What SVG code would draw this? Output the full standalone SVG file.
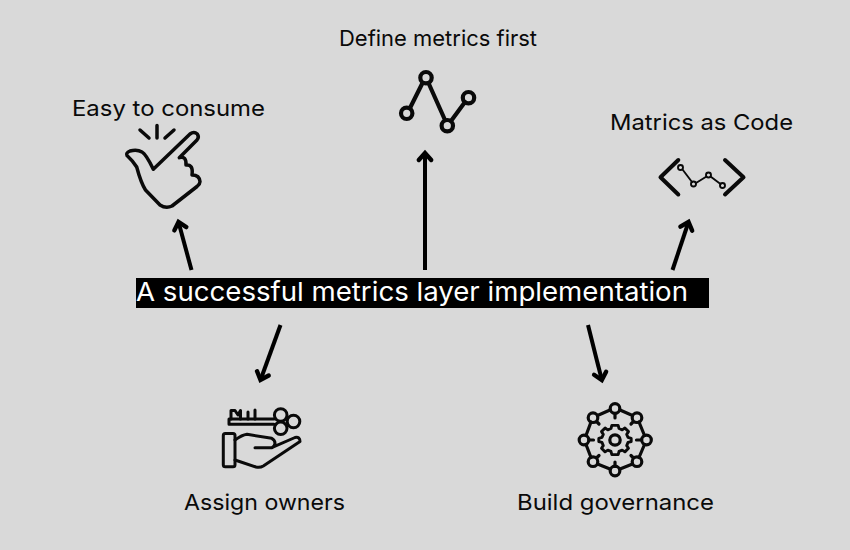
<svg xmlns="http://www.w3.org/2000/svg" width="850" height="550" viewBox="0 0 850 550">
<style>
text{font-family:"Inter","Liberation Sans",sans-serif;font-size:22px;fill:#0a0a0a}
.i{fill:none;stroke:#0a0a0a;stroke-width:3.500;stroke-linecap:round;stroke-linejoin:round}
.c{fill:none;stroke:#000;stroke-width:4;stroke-linecap:butt}
</style>
<defs>
<marker id="a" markerUnits="userSpaceOnUse" markerWidth="20" markerHeight="20" refX="15" refY="10" orient="auto">
<path d="M8 3.800 L15 10 L8 16.200" fill="none" stroke="#000" stroke-width="4.400" stroke-linecap="round" stroke-linejoin="miter"/>
</marker>
</defs>
<rect width="850" height="550" fill="#d9d9d9"/>
<g id="connectors">
<line class="c" x1="191.500" y1="270" x2="178.500" y2="222" marker-end="url(#a)"/>
<line class="c" x1="425" y1="270" x2="425" y2="153" marker-end="url(#a)"/>
<line class="c" x1="672.500" y1="270" x2="688.500" y2="222" marker-end="url(#a)"/>
<line class="c" x1="280.500" y1="325" x2="260.500" y2="380" marker-end="url(#a)"/>
<line class="c" x1="588" y1="325" x2="601.800" y2="380" marker-end="url(#a)"/>
</g>
<g id="center">
<rect x="136" y="278" width="573" height="30" fill="#000"/>
<text x="136" y="301" textLength="552" lengthAdjust="spacingAndGlyphs" style="fill:#fff;font-size:26px">A successful metrics layer implementation</text>
</g>
<g id="easy">
<text x="72" y="116" textLength="193" lengthAdjust="spacingAndGlyphs">Easy to consume</text>
<path class="i" d="M153.300 169.300 L190 134 Q194 131 197.300 134 Q199.500 137 197 140 L179.300 157.700 Q186.500 155.500 186 165 Q193.500 164 192 175 Q199.500 175 200 181.700 Q200 184 197 186.500 L172 206 Q166 209 160 205 L145.500 190 Q141 183 136.700 167 Q133 161 127 155.500 Q125.500 153 130 151 Q137 149 142 152 Q146 154 153.300 169.300Z"/>
<path class="i" d="M140 130 L149 138 M157 125.500 V138 M174 130 L165 138"/>
</g>
<g id="define">
<text x="339" y="46" textLength="198" lengthAdjust="spacingAndGlyphs">Define metrics first</text>
<g class="i" style="stroke-width:4.200">
<circle cx="406.700" cy="113.300" r="5.700"/>
<circle cx="426" cy="77.700" r="5.700"/>
<circle cx="447.300" cy="125.700" r="5.700"/>
<circle cx="468.500" cy="97.700" r="5.700"/>
<path d="M410 108 L422.500 83 M428.500 83 L445 120 M451 121 L465 102"/>
</g>
</g>
<g id="code">
<text x="610" y="130" textLength="183" lengthAdjust="spacingAndGlyphs">Matrics as Code</text>
<path class="i" style="stroke-width:4" d="M678.300 160 L660.500 177.300 L678.300 194.500 M725 160 L743.500 177.300 L725 194.500"/>
<g class="i" style="stroke-width:1.900">
<circle cx="680.500" cy="167.500" r="2.500"/>
<circle cx="693.500" cy="184" r="2.500"/>
<circle cx="708.500" cy="175" r="2.500"/>
<circle cx="722.500" cy="185.500" r="2.500"/>
<path d="M682.500 169.500 L692 182 M696 183 L706.500 176.500 M710.500 176.500 L720.500 184"/>
</g>
</g>
<g id="assign">
<text x="184" y="510" textLength="161" lengthAdjust="spacingAndGlyphs">Assign owners</text>
<g class="i" style="stroke-width:3">
<path d="M274 419 H229 V424.300 H274"/>
<circle cx="280.700" cy="415" r="6.300"/>
<circle cx="280.700" cy="428.300" r="6.300"/>
<circle cx="293.500" cy="421.500" r="6.300"/>
<path d="M231 419 V410.500 H235 L238 415 L240.500 410.500 V419 M248 419 V412 M255 419 V410"/>
<rect x="223.300" y="433.500" width="11.700" height="33.200" rx="2"/>
<path d="M235 440 Q242 435 247 434.300 L271.700 438.300 Q275 440 275 443.300 Q274.500 447 271.700 447.700 H255 M271.700 447.700 L295 437.500 Q300 436.500 300 441.500 L263.300 466 Q260 468 256 467 L235 460"/>
</g>
</g>
<g id="build">
<text x="517" y="510" textLength="197" lengthAdjust="spacingAndGlyphs">Build governance</text>
<g class="i" style="stroke-width:3.200">
<circle cx="615" cy="408.500" r="4.800"/>
<circle cx="637" cy="417.700" r="4.800"/>
<circle cx="646.500" cy="440" r="4.800"/>
<circle cx="637" cy="461.700" r="4.800"/>
<circle cx="615" cy="471" r="4.800"/>
<circle cx="593" cy="461.700" r="4.800"/>
<circle cx="584" cy="440" r="4.800"/>
<circle cx="593" cy="417.700" r="4.800"/>
<path d="M620 410 L632.500 415.500 M639 422 L644.500 435.500 M644.500 444.500 L639 457.500 M632.500 464 L620 469 M610 469 L597.500 464 M591 457.500 L586 444.500 M586 435.500 L591 422 M597.500 415.500 L610 410"/>
<path d="M615 413.500 V418 M615 462 V466.500 M589 440 H593.500 M636.500 440 H641.500 M597 422 L599 424 M633 422 L631 424 M597 457.500 L599 455.500 M633 457.500 L631 455.500"/>
<circle cx="615" cy="440" r="5.200"/>
<path transform="translate(615 440) scale(0.9) translate(-615 -440.800)" d="M611.500 424.500 H618.500 L619.500 428 L623 429.500 L626 427.500 L630 431.500 L628 434.500 L629.500 438 L633 439 V442.500 L629.500 443.500 L628 447 L630 450 L626 454 L623 452 L619.500 453.500 L618.500 457 H611.500 L610.500 453.500 L607 452 L604 454 L600 450 L602 447 L600.500 443.500 L597 442.500 V439 L600.500 438 L602 434.500 L600 431.500 L604 427.500 L607 429.500 L610.500 428Z"/>
</g>
</g>
</svg>
